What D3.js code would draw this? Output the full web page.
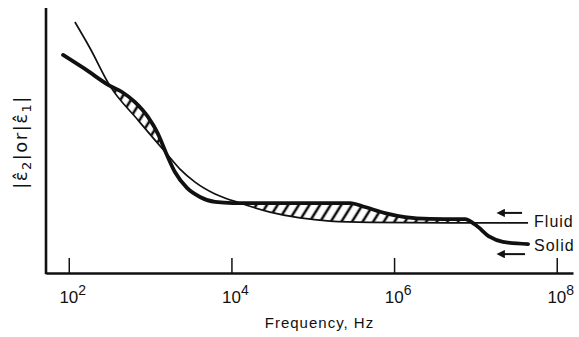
<!DOCTYPE html>
<html>
<head>
<meta charset="utf-8">
<script src="https://cdn.jsdelivr.net/npm/d3@7"></script>
<style>
body { margin: 0; background: #fff; }
text { font-family: "Liberation Sans", Arial, sans-serif; fill: #111; }
</style>
</head>
<body>
<div id="chart"></div>
<script>
'use strict';

// decade ticks on the frequency axis (10^n)
const tickExponents = [2, 4, 6, 8];

// solid curve (thick line), frequency in Hz vs relative magnitude
const solidFreq = [85, 158, 321, 451, 652, 942, 1250, 1570, 2020, 2840, 4110, 6290,
    10400, 287000, 439000, 773000, 1.36e6, 2.77e6, 6.11e6, 7.45e6, 9.89e6, 1.51e7, 2.18e7, 4.44e7];
const solidMag = [82.3, 77.0, 70.6, 68.3, 64.5, 58.9, 52.5, 45.3, 38.1, 32.1, 28.7, 26.8,
    26.4, 26.4, 24.9, 22.6, 21.1, 20.4, 20.3, 20.3, 18.3, 13.6, 11.7, 10.9];

// fluid curve (thin line)
const fluidFreq = [119, 182, 321, 710, 1570, 2330, 3570, 6290, 12700, 29800, 69700,
    163000, 506000, 4.88e6, 4.44e7];
const fluidMag = [94.7, 84.9, 70.6, 57.7, 45.3, 39.2, 34.3, 29.8, 26.4, 23.0, 20.8,
    19.6, 19.1, 18.9, 18.9];

const seriesNames = ["Fluid", "Solid"];

var width = 579;
var height = 337;
var margin = { top: 8, right: 6, bottom: 64, left: 46 };

let svg = d3.select('#chart').append('svg')
    .attr("width", width)
    .attr("height", height)
    .style("background", "#fff");

let x = d3.scaleLog()
    .domain([Math.pow(10, 1.72), Math.pow(10, 8.2)])
    .range([margin.left, width - margin.right]);

let y = d3.scaleLinear()
    .domain([0, 100])
    .range([height - margin.bottom, margin.top]);

const solid = solidFreq.map((f, i) => ({ f: f, v: solidMag[i] }));
const fluid = fluidFreq.map((f, i) => ({ f: f, v: fluidMag[i] }));

let defs = svg.append("defs");

// hatching
let pat = defs.append("pattern")
    .attr("id", "hatch")
    .attr("patternUnits", "userSpaceOnUse")
    .attr("width", 9)
    .attr("height", 20)
    .attr("patternTransform", "rotate(32)");
pat.append("line")
    .attr("x1", 2).attr("y1", -2)
    .attr("x2", 2).attr("y2", 22)
    .attr("stroke", "#111")
    .attr("stroke-width", 2.6);

// region under the solid curve, and region above the fluid curve
let belowSolid = d3.area()
    .x(d => x(d.f))
    .y0(height)
    .y1(d => y(d.v))
    .curve(d3.curveMonotoneX);
let aboveFluid = d3.area()
    .x(d => x(d.f))
    .y0(0)
    .y1(d => y(d.v))
    .curve(d3.curveMonotoneX);

defs.append("clipPath").attr("id", "clipSolid")
    .append("path").attr("d", belowSolid(solid));
defs.append("clipPath").attr("id", "clipFluid")
    .append("path").attr("d", aboveFluid(fluid));

svg.append("g")
    .attr("clip-path", "url(#clipFluid)")
    .append("rect")
    .attr("clip-path", "url(#clipSolid)")
    .attr("x", x(solidFreq[0]))
    .attr("y", 0)
    .attr("width", x(solidFreq[solidFreq.length - 1]) - x(solidFreq[0]))
    .attr("height", height)
    .attr("fill", "url(#hatch)");

let line = d3.line()
    .x(d => x(d.f))
    .y(d => y(d.v))
    .curve(d3.curveMonotoneX);

svg.append("path")
    .datum(fluid)
    .attr("fill", "none")
    .attr("stroke", "#111")
    .attr("stroke-width", 1.7)
    .attr("d", line);

svg.append("path")
    .datum(solid)
    .attr("fill", "none")
    .attr("stroke", "#111")
    .attr("stroke-width", 3.8)
    .attr("stroke-linejoin", "round")
    .attr("stroke-linecap", "round")
    .attr("d", line);

// axes
let xAxis = d3.axisBottom(x)
    .tickValues(tickExponents.map(e => Math.pow(10, e)))
    .tickSize(-15)
    .tickSizeOuter(0)
    .tickFormat("");

let gx = svg.append("g")
    .attr("transform", "translate(0," + y(0) + ")")
    .call(xAxis);
gx.select(".domain").attr("stroke", "#111").attr("stroke-width", 2.6);
gx.selectAll(".tick line").attr("stroke", "#111").attr("stroke-width", 1.5);

svg.append("line")
    .attr("x1", x.range()[0]).attr("x2", x.range()[0])
    .attr("y1", y(0) + 1.3).attr("y2", y(100))
    .attr("stroke", "#111")
    .attr("stroke-width", 2.6);

// tick labels 10^n
let lbl = svg.selectAll(".tlabel")
    .data(tickExponents)
    .enter().append("text")
    .attr("class", "tlabel")
    .attr("x", d => x(Math.pow(10, d)) + 4)
    .attr("y", y(0) + 30)
    .attr("text-anchor", "middle")
    .style("font-size", "17px");
lbl.append("tspan").text("10");
lbl.append("tspan")
    .attr("dy", -8)
    .style("font-size", "14px")
    .text(d => d);

svg.append("text")
    .attr("x", (x.range()[0] + x.range()[1]) / 2 + 10)
    .attr("y", y(0) + 55)
    .attr("text-anchor", "middle")
    .style("font-size", "15px")
    .style("letter-spacing", "1px")
    .text("Frequency, Hz");

// y label |ε̂2| or |ε̂1|
let yl = svg.append("text")
    .attr("transform", "translate(27," + 142 + ") rotate(-90)")
    .attr("text-anchor", "middle")
    .style("font-family", "'DejaVu Sans', sans-serif")
    .style("font-size", "18px")
    .style("letter-spacing", "1.5px");
yl.append("tspan").text("|\u03B5\u0302");
yl.append("tspan").attr("dy", 4).style("font-size", "13px").text("2");
yl.append("tspan").attr("dy", -4).text("|or|\u03B5\u0302");
yl.append("tspan").attr("dy", 4).style("font-size", "13px").text("1");
yl.append("tspan").attr("dy", -4).text("|");

// arrows and labels at the right end
defs.append("marker")
    .attr("id", "arrow")
    .attr("viewBox", "0 0 10 10")
    .attr("refX", 1).attr("refY", 5)
    .attr("markerWidth", 5).attr("markerHeight", 4.2)
    .attr("markerUnits", "strokeWidth")
    .attr("orient", "auto-start-reverse")
    .append("path")
    .attr("d", "M0,0L10,5L0,10z")
    .attr("fill", "#111");

const ends = [fluid[fluid.length - 1], solid[solid.length - 1]];
const offs = [-10, 10];

ends.forEach((d, i) => {
    let ex = x(d.f);
    let ey = y(d.v) + offs[i];
    svg.append("line")
        .attr("x1", ex - 3 - (i === 0 ? 3 : 0)).attr("y1", ey)
        .attr("x2", ex - 24).attr("y2", ey)
        .attr("stroke", "#111")
        .attr("stroke-width", 2)
        .attr("marker-end", "url(#arrow)");
    svg.append("text")
        .attr("x", ex + 6)
        .attr("y", y(d.v) + (i === 0 ? 4 : 7))
        .style("font-size", "16px")
        .style("letter-spacing", "1px")
        .text(seriesNames[i]);
});
</script>
</body>
</html>
